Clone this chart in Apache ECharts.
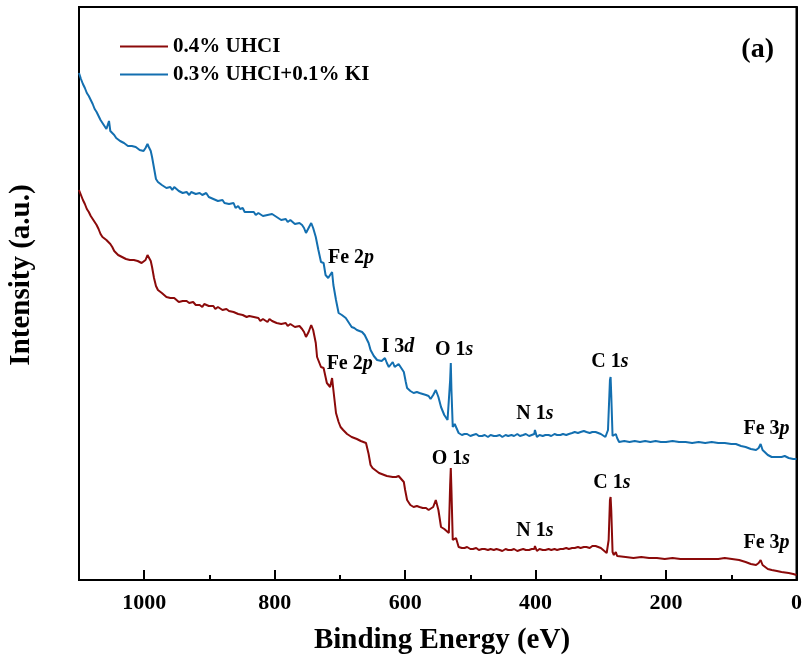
<!DOCTYPE html>
<html>
<head>
<meta charset="utf-8">
<script src="https://cdn.jsdelivr.net/npm/echarts@6/dist/echarts.min.js"></script>
<style>
html,body{margin:0;padding:0;background:#fff;}
#chart{width:805px;height:668px;}
</style>
</head>
<body>
<div id="chart"></div>
<script>
// [binding energy (eV), intensity (a.u.)]
const blueData = [
[1100,507],[1097,501],[1094,496],[1091,492],[1088,487],[1085,484],[1082,480],[1079,476],[1076,471],[1073,468],[1070,464],[1067,460],[1064,457],[1061,454],[1058,451],[1056,452],[1054,459],[1052,449],[1049,447],[1046,445],[1043,442],[1040,441],[1037,439],[1034,437],[1031,437],[1028,435],[1025,434],[1022,436],[1019,434],[1016,433],[1013,433],[1010,431],[1007,430],[1004,429],
[1001,429],[998,432],[995,436],[993,433],[990,429],[988,423],[985,412],[982,401],[979,398],[976,397],[973,395],[970,396],[966,392],[963,394],[960,393],[957,390],[954,393],[951,391],[947,389],[944,391],[941,387],[938,388],[935,388],[931,385],[928,388],[925,386],[921,386],[918,384],[915,387],[911,385],[908,384],[905,387],[901,383],[898,383],[894,381],[891,382],[887,379],[884,381],[880,380],[877,377],[874,379],[870,376],[867,375],[863,377],[860,372],[856,374],[853,371],[849,372],[846,368],[843,370],[839,368],[836,366],[832,368],[829,365],[825,367],[822,366],[818,364],[815,366],[811,365],[808,363],[804,366],[801,364],[797,363],[794,364],[790,360],[787,362],[783,361],[780,358],[776,360],[773,359],[769,356],[766,358],[762,357],
[758,355],[755,352],[752,347],[748,352],[744,357],[741,352],[737,343],[733,330],[729,318],[725,317],[722,305],[718,302],[715,300],[712,308],[710,295],[706,280],[702,267],[697,265],[694,266],[691,262],[686,257],[682,253],[678,252],[674,250],[670,249],[666,248],[662,245],[659,243],[656,237],[653,230],[648,224],[643,220],[636,219],[631,222],[628,217],[625,213],[622,215],[619,218],[616,213],[613,212],[610,216],[607,214],[602,208],[599,198],[597,192],[592,189],[587,187],[582,188],[578,187],[573,186],[568,185],[564,184],[561,181],[557,185],[553,190],[549,183],[545,173],[540,165],[535,160],[533,162],[531,200],[530,217],[529,190],[527,153],[524,156],[522,155],
[518,147],[513,145],[509,146],[505,146],[500,144],[496,145],[491,146],[487,144],[482,144],[478,145],[473,143],[469,145],[464,144],[460,144],[455,145],[451,143],[446,145],[442,144],[437,145],[433,144],[428,146],[424,144],[419,145],[415,146],[410,144],[406,145],[402,146],[401,150],[398,143],[394,145],[389,144],[385,145],[380,145],[376,144],[371,146],[367,145],[362,145],[358,146],[353,145],[349,146],[344,147],[340,148],[335,147],[331,148],[326,149],[322,148],[317,147],[313,148],[308,148],[304,147],[300,146],[297,145],[293,143],[289,150],[286,200],[285,203],[284,185],[282,144],[280,143],[277,146],[275,142],
[272,138],[264,139],[256,138],[248,139],[240,138],[232,139],[224,138],[216,139],[208,138],[200,138],[190,139],[180,138],[170,138],[160,137],[150,138],[140,137],[130,138],[120,137],[110,137],[100,136],[93,136],[85,134],[78,133],[70,131],[62,130],[58,132],[55,136],[52,130],[50,128],[44,125],[38,123],[30,123],[23,123],[18,124],[12,122],[5,121],[0,121]
];
const redData = [
[1100,390],[1097,385],[1094,380],[1091,376],[1088,371],[1085,368],[1082,364],[1079,361],[1076,359],[1073,355],[1070,351],[1067,346],[1064,343],[1061,342],[1058,340],[1055,339],[1052,336],[1049,333],[1046,329],[1043,327],[1040,325],[1037,324],[1034,323],[1031,322],[1028,321],[1025,321],[1022,320],[1019,320],[1016,320],[1013,319],[1010,319],[1007,317],[1004,317],
[1001,315],[998,320],[995,325],[993,323],[990,319],[988,313],[985,302],[982,294],[979,290],[976,289],[973,287],[970,286],[966,283],[963,284],[960,282],[957,280],[954,282],[951,281],[947,278],[944,280],[941,279],[938,277],[935,279],[931,277],[928,276],[925,278],[921,275],[918,276],[915,275],[911,273],[908,276],[905,274],[901,274],[898,272],[894,274],[891,271],[887,273],[884,272],[880,270],[877,272],[874,271],[870,269],[867,271],[863,268],[860,269],[856,266],[853,268],[849,265],[846,266],[843,263],[839,264],[836,262],[832,263],[829,261],[825,262],[822,259],[818,261],[815,260],[811,258],[808,261],[804,259],[801,260],[797,257],[794,258],[790,256],[787,258],[783,257],[780,254],[776,256],[773,255],[769,253],[766,255],[762,254],
[758,251],[755,248],[752,243],[748,248],[744,255],[741,250],[737,237],[735,223],[729,213],[725,212],[720,197],[715,193],[712,202],[710,190],[706,167],[702,158],[699,153],[695,150],[692,148],[689,146],[686,145],[682,143],[678,142],[674,141],[671,140],[668,139],[665,138],[660,137],[656,126],[653,115],[650,112],[646,110],[643,108],[640,107],[636,106],[632,105],[628,104],[625,103],[619,103],[614,103],[610,104],[607,105],[602,98],[600,90],[597,80],[592,75],[587,73],[582,74],[578,73],[573,72],[568,72],[564,70],[561,68],[557,73],[553,80],[549,70],[545,53],[540,51],[538,50],[533,47],[531,95],[530,112],[529,90],[527,40],[524,42],[522,42],
[518,33],[513,32],[509,32],[505,33],[500,31],[496,31],[491,32],[487,30],[482,31],[478,31],[473,30],[469,31],[464,30],[460,31],[455,30],[451,29],[446,31],[442,30],[437,30],[433,31],[428,29],[424,30],[419,31],[415,30],[410,30],[406,31],[402,31],[401,34],[398,29],[394,31],[389,30],[385,30],[380,31],[376,30],[371,31],[367,30],[362,31],[358,31],[353,32],[349,31],[344,32],[340,32],[335,33],[331,32],[326,33],[322,33],[317,32],[313,34],[308,34],[304,33],[300,32],[297,31],[291,27],[288,40],[286,80],[285,83],[284,70],[282,28],[280,25],[277,28],[275,24],
[272,23],[262,23],[250,22],[238,23],[226,22],[214,22],[202,21],[190,22],[178,21],[166,21],[150,21],[138,21],[120,21],[110,22],[99,21],[88,20],[78,18],[70,16],[62,15],[58,17],[55,20],[52,15],[50,13],[44,11],[38,10],[30,9],[23,8],[12,7],[5,6],[0,5]
];

const seriesNames = ['0.4% UHCI', '0.3% UHCI+0.1% KI'];
const xTicks = [0, 200, 400, 600, 800, 1000];

// Peak labels (text, anchor energy, anchor intensity)
const peakLabels = ['Fe 2p','Fe 2p','I 3d','O 1s','O 1s','C 1s','C 1s','N 1s','N 1s','Fe 3p','Fe 3p'];
const peakEnergy = [683,685,611,525,530,286,283,401,401,46,46];
const peakIntensity = [322,216,233,230,121,218,97,166,49,151,37];

const FONT = '"Liberation Serif","Times New Roman",serif';

const chart = echarts.init(document.getElementById('chart'), null, {renderer: 'canvas'});

const axisBase = {
  type: 'value', inverse: true, min: 0, max: 1100, gridIndex: 0, position: 'bottom',
  splitLine: {show: false}
};

const staticGraphics = [
  {type: 'text', x: 22, y: 275, rotation: Math.PI / 2,
   style: {text: 'Intensity (a.u.)', font: 'bold 29px ' + FONT, fill: '#000', align: 'center', verticalAlign: 'middle'}},
  {type: 'text', x: 442, y: 641,
   style: {text: 'Binding Energy (eV)', font: 'bold 29px ' + FONT, fill: '#000', align: 'center', verticalAlign: 'middle'}},
  {type: 'text', x: 774, y: 50,
   style: {text: '(a)', font: 'bold 28px ' + FONT, fill: '#000', align: 'right', verticalAlign: 'middle'}}
];

chart.setOption({
  backgroundColor: '#fff',
  animation: false,
  grid: {left: 79, right: 7, top: 7, bottom: 88, show: true, borderColor: '#000', borderWidth: 2},
  legend: {
    data: seriesNames,
    orient: 'vertical', left: 115, top: 31, itemGap: 7,
    itemWidth: 48, itemHeight: 2, icon: 'rect',
    textStyle: {fontFamily: FONT, fontWeight: 'bold', fontSize: 21, color: '#000'}
  },
  xAxis: [
    Object.assign({}, axisBase, {
      interval: 200,
      axisLine: {show: true, lineStyle: {color: '#000', width: 2}},
      axisTick: {show: true, inside: true, length: 10, lineStyle: {color: '#000', width: 2}},
      axisLabel: {
        show: true, margin: 12, color: '#000', fontFamily: FONT, fontWeight: 'bold', fontSize: 22,
        formatter: v => (xTicks.indexOf(v) >= 0 ? String(v) : '')
      }
    }),
    Object.assign({}, axisBase, {
      interval: 100,
      axisLine: {show: false},
      axisTick: {show: true, inside: true, length: 5, lineStyle: {color: '#000', width: 2}},
      axisLabel: {show: false}
    })
  ],
  yAxis: {
    type: 'value', min: 0, max: 573,
    axisLine: {show: true, lineStyle: {color: '#000', width: 2}},
    axisTick: {show: false}, axisLabel: {show: false}, splitLine: {show: false}
  },
  graphic: staticGraphics,
  series: [
    {
      name: seriesNames[0], type: 'line', xAxisIndex: 0, symbol: 'none',
      data: redData,
      lineStyle: {color: '#8b0a0a', width: 2}, itemStyle: {color: '#8b0a0a'}
    },
    {
      name: seriesNames[1], type: 'line', xAxisIndex: 0, symbol: 'none',
      data: blueData,
      lineStyle: {color: '#136fb0', width: 2}, itemStyle: {color: '#136fb0'}
    }
  ]
});

// Peak labels placed through the chart's own scales
const labelGraphics = peakLabels.map((t, i) => {
  const p = chart.convertToPixel({xAxisIndex: 0, yAxisIndex: 0}, [peakEnergy[i], peakIntensity[i]]);
  return {
    type: 'text', x: p[0], y: p[1], z: 10,
    style: {
      text: '{b|' + t.slice(0, -1) + '}{i|' + t.slice(-1) + '}',
      align: 'center', verticalAlign: 'middle', fill: '#000',
      rich: {
        b: {font: 'bold 20px ' + FONT, fill: '#000'},
        i: {font: 'italic bold 20px ' + FONT, fill: '#000'}
      }
    }
  };
});
chart.setOption({graphic: staticGraphics.concat(labelGraphics)});
</script>
</body>
</html>
